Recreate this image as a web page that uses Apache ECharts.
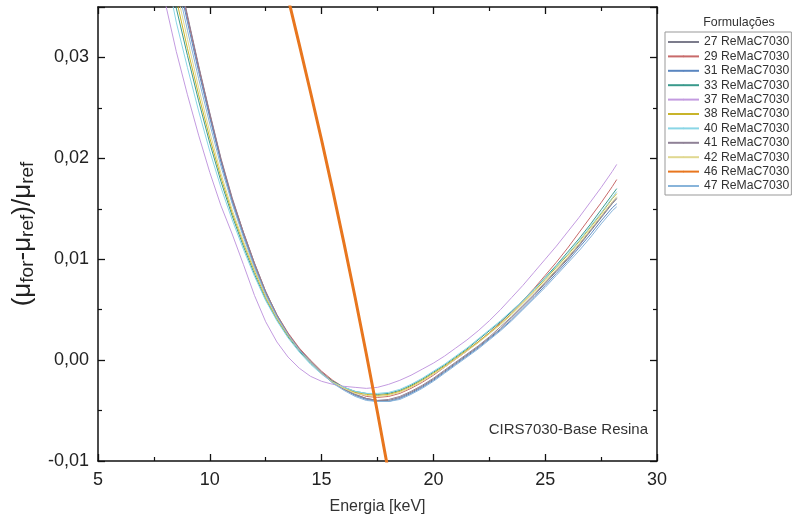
<!DOCTYPE html>
<html>
<head>
<meta charset="utf-8">
<script src="https://cdn.jsdelivr.net/npm/echarts@6/dist/echarts.min.js"></script>
<style>html,body{margin:0;padding:0;background:#fff}#c{width:794px;height:523px}</style>
</head>
<body>
<div id="c"></div>
<script>
var energies = [8.0,8.5,9.0,9.5,10,10.5,11,11.5,12,12.5,13,13.5,14,14.5,15,15.5,16,16.5,17,17.5,18,18.5,19,19.5,20,20.5,21,21.5,22,22.5,23,23.5,24,24.5,25,25.5,26,26.5,27,27.5,28,28.2];
var s27 = [0.0443,0.0392,0.0340,0.0290,0.0243,0.0198,0.0159,0.0126,0.0095,0.0067,0.0044,0.0026,0.0011,-0.0001,-0.0012,-0.0021,-0.0028,-0.0034,-0.0038,-0.0040,-0.0040,-0.0037,-0.0032,-0.0026,-0.0019,-0.0011,-0.0003,0.0005,0.0013,0.0022,0.0031,0.0042,0.0053,0.0064,0.0076,0.0088,0.0100,0.0113,0.0127,0.0141,0.0155,0.0160];
var s29 = [0.0442,0.0391,0.0340,0.0291,0.0244,0.0199,0.0160,0.0127,0.0096,0.0068,0.0045,0.0027,0.0012,0.0000,-0.0011,-0.0020,-0.0027,-0.0032,-0.0036,-0.0037,-0.0036,-0.0033,-0.0028,-0.0022,-0.0015,-0.0007,0.0001,0.0009,0.0018,0.0027,0.0037,0.0048,0.0059,0.0071,0.0084,0.0097,0.0111,0.0126,0.0141,0.0156,0.0172,0.0179];
var s31 = [0.0437,0.0386,0.0335,0.0286,0.0240,0.0196,0.0157,0.0124,0.0093,0.0066,0.0043,0.0025,0.0010,-0.0002,-0.0013,-0.0022,-0.0029,-0.0035,-0.0039,-0.0041,-0.0041,-0.0038,-0.0033,-0.0027,-0.0020,-0.0012,-0.0004,0.0004,0.0012,0.0021,0.0030,0.0040,0.0051,0.0062,0.0074,0.0086,0.0098,0.0111,0.0124,0.0138,0.0151,0.0155];
var s33 = [0.0405,0.0349,0.0302,0.0257,0.0215,0.0177,0.0143,0.0113,0.0085,0.0060,0.0040,0.0023,0.0009,-0.0003,-0.0013,-0.0021,-0.0027,-0.0031,-0.0033,-0.0034,-0.0033,-0.0030,-0.0025,-0.0019,-0.0012,-0.0005,0.0003,0.0011,0.0020,0.0029,0.0038,0.0048,0.0059,0.0070,0.0082,0.0094,0.0107,0.0120,0.0134,0.0149,0.0164,0.0170];
var s37 = [0.0355,0.0306,0.0263,0.0223,0.0186,0.0153,0.0125,0.0095,0.0064,0.0038,0.0018,0.0003,-0.0008,-0.0016,-0.0021,-0.0024,-0.0026,-0.0027,-0.0028,-0.0027,-0.0024,-0.0020,-0.0015,-0.0009,-0.0003,0.0004,0.0012,0.0020,0.0029,0.0039,0.0050,0.0062,0.0074,0.0087,0.0100,0.0113,0.0127,0.0141,0.0156,0.0171,0.0187,0.0194];
var s38 = [0.0413,0.0358,0.0309,0.0263,0.0220,0.0181,0.0146,0.0116,0.0088,0.0062,0.0041,0.0024,0.0010,-0.0002,-0.0013,-0.0022,-0.0028,-0.0032,-0.0034,-0.0035,-0.0034,-0.0031,-0.0026,-0.0020,-0.0013,-0.0006,0.0002,0.0010,0.0018,0.0027,0.0036,0.0046,0.0057,0.0068,0.0080,0.0092,0.0104,0.0117,0.0131,0.0145,0.0160,0.0165];
var s40 = [0.0390,0.0335,0.0290,0.0247,0.0207,0.0171,0.0139,0.0110,0.0083,0.0059,0.0039,0.0022,0.0008,-0.0004,-0.0014,-0.0022,-0.0027,-0.0031,-0.0033,-0.0033,-0.0032,-0.0029,-0.0024,-0.0018,-0.0011,-0.0004,0.0004,0.0012,0.0021,0.0030,0.0039,0.0049,0.0059,0.0070,0.0081,0.0093,0.0105,0.0118,0.0132,0.0146,0.0161,0.0167];
var s41 = [0.0445,0.0393,0.0342,0.0292,0.0245,0.0200,0.0161,0.0127,0.0096,0.0068,0.0045,0.0026,0.0011,-0.0001,-0.0012,-0.0022,-0.0029,-0.0034,-0.0038,-0.0040,-0.0039,-0.0036,-0.0031,-0.0025,-0.0018,-0.0010,-0.0002,0.0006,0.0014,0.0023,0.0033,0.0043,0.0054,0.0065,0.0077,0.0089,0.0101,0.0114,0.0128,0.0142,0.0156,0.0161];
var s42 = [0.0422,0.0368,0.0318,0.0270,0.0226,0.0185,0.0149,0.0118,0.0090,0.0064,0.0042,0.0025,0.0010,-0.0002,-0.0013,-0.0022,-0.0028,-0.0033,-0.0035,-0.0036,-0.0035,-0.0032,-0.0027,-0.0021,-0.0014,-0.0007,0.0001,0.0009,0.0017,0.0026,0.0035,0.0045,0.0056,0.0067,0.0078,0.0090,0.0102,0.0115,0.0129,0.0143,0.0157,0.0162];
var s47 = [0.0430,0.0377,0.0327,0.0279,0.0234,0.0192,0.0155,0.0122,0.0092,0.0065,0.0043,0.0025,0.0010,-0.0002,-0.0013,-0.0023,-0.0030,-0.0036,-0.0040,-0.0041,-0.0041,-0.0039,-0.0034,-0.0028,-0.0021,-0.0013,-0.0005,0.0003,0.0011,0.0020,0.0029,0.0039,0.0050,0.0061,0.0072,0.0084,0.0096,0.0108,0.0121,0.0135,0.0148,0.0152];
var energies46 = [13.0,13.5,14.0,14.5,15.0,15.5,16.0,16.5,17.0,17.5,18.0];
var s46 = [0.0404,0.0359,0.0313,0.0266,0.0218,0.0168,0.0116,0.0062,0.0006,-0.0052,-0.0112];

var names = ['27 ReMaC7030','29 ReMaC7030','31 ReMaC7030','33 ReMaC7030','37 ReMaC7030','38 ReMaC7030','40 ReMaC7030','41 ReMaC7030','42 ReMaC7030','46 ReMaC7030','47 ReMaC7030'];
var colors = ['#7c7c8c','#c86a6a','#5a86c0','#3a9a8c','#c39be0','#c8b42a','#8ad6e6','#8f8196','#e0d890','#e8761e','#88b4da'];
var xTicks = {min:5, max:30, interval:5};
var yTicks = {min:-0.01, max:0.035, interval:0.01};

function pairs(xs, ys){ return xs.map(function(x,i){ return [x, ys[i]]; }); }
var seriesData = [pairs(energies,s27),pairs(energies,s29),pairs(energies,s31),pairs(energies,s33),pairs(energies,s37),pairs(energies,s38),pairs(energies,s40),pairs(energies,s41),pairs(energies,s42),pairs(energies46,s46),pairs(energies,s47)];

var chart = echarts.init(document.getElementById('c'));
var FONT = 'Liberation Sans';
var series = names.map(function(n,i){
  return {
    name: n, type: 'line', xAxisIndex: 0, yAxisIndex: 0,
    data: seriesData[i], symbol: 'none', clip: true,
    lineStyle: {width: i===9 ? 3 : 1, color: colors[i]},
    itemStyle: {color: colors[i]},
    z: i===9 ? 5 : 2
  };
});
var tickCommon = {show:true, inside:true, length:7, lineStyle:{color:'#111', width:1.3}};
var minorCommon = {show:true, splitNumber:2, length:4, lineStyle:{color:'#111', width:1.2}};
var lineCommon = {show:true, onZero:false, lineStyle:{color:'#111', width:1.5}};
chart.setOption({
  animation: false,
  backgroundColor: '#fff',
  color: colors,
  grid: {left:98, right:137, top:7, bottom:62, containLabel:false},
  xAxis: [
    {type:'value', position:'bottom', min:xTicks.min, max:xTicks.max, interval:xTicks.interval,
     axisLine:lineCommon, axisTick:tickCommon, minorTick:minorCommon, splitLine:{show:false},
     axisLabel:{show:true, margin:10, fontSize:18, color:'#222', fontFamily:FONT},
     name:'Energia [keV]', nameLocation:'middle', nameGap:38,
     nameTextStyle:{fontSize:16, color:'#333', fontFamily:FONT}},
    {type:'value', position:'top', min:xTicks.min, max:xTicks.max, interval:xTicks.interval,
     axisLine:lineCommon, axisTick:tickCommon, minorTick:minorCommon, splitLine:{show:false},
     axisLabel:{show:false}}
  ],
  yAxis: [
    {type:'value', position:'left', min:yTicks.min, max:yTicks.max, interval:yTicks.interval,
     axisLine:lineCommon, axisTick:tickCommon, minorTick:minorCommon, splitLine:{show:false},
     axisLabel:{show:true, margin:9, fontSize:18, color:'#222', fontFamily:FONT, showMaxLabel:false,
       formatter:function(v){ return v.toFixed(2).replace('.', ','); }},
     name:'{m|(μ}{s|for}{m|-μ}{s|ref}{m|)/μ}{s|ref}', nameLocation:'middle', nameGap:60,
     nameTextStyle:{fontFamily:FONT, color:'#222',
       rich:{m:{fontSize:26, fontFamily:FONT, color:'#222'}, s:{fontSize:19, fontFamily:FONT, color:'#222', verticalAlign:'bottom', padding:[10,0,0,0]}}}},
    {type:'value', position:'right', min:yTicks.min, max:yTicks.max, interval:yTicks.interval,
     axisLine:lineCommon, axisTick:tickCommon, minorTick:minorCommon, splitLine:{show:false},
     axisLabel:{show:false}}
  ],
  legend: {
    orient:'vertical', left:665, top:32, data:names,
    itemWidth:31, itemHeight:2, itemGap:2.4,
    padding:[4,2,3,2], borderColor:'#999', borderWidth:1,
    textStyle:{fontSize:12.2, lineHeight:12, color:'#333', fontFamily:FONT}
  },
  graphic: [
    {type:'text', x:739, y:23, style:{text:'Formulações', fontSize:12.4, fill:'#333', fontFamily:FONT, align:'center', verticalAlign:'middle'}},
    {type:'text', x:648, y:430, style:{text:'CIRS7030-Base Resina', fontSize:15, fill:'#333', fontFamily:FONT, align:'right', verticalAlign:'middle'}}
  ],
  series: series
});
</script>
</body>
</html>
